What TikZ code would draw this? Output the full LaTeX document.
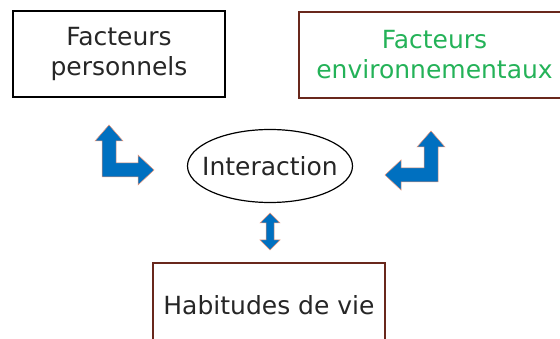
\documentclass[tikz,border=0pt]{standalone}
\usepackage{fontspec}
\setmainfont{DejaVu Sans}
\usepackage{xcolor}
\usepackage{tikz}
\usetikzlibrary{positioning,calc,shapes.geometric}
\definecolor{envgreen}{RGB}{36,178,88}
\definecolor{arrowblue}{RGB}{0,112,192}
\definecolor{arrowedge}{RGB}{238,150,120}
\definecolor{boxedge}{RGB}{105,40,28}

\begin{document}
\begin{tikzpicture}[
		x=1pt,y=-1pt,
		box/.style={draw, line width=1.3pt, align=center, font=\fontsize{25}{30}\selectfont, text=black!85},
		redbox/.style={box, draw=boxedge},
		blockarrow/.style={fill=arrowblue, draw=arrowedge, line width=0.5pt, line join=miter}
		]
		\useasboundingbox (0,0) rectangle (560,339);
		
		% ====== BOÎTES ======
		\node[box, minimum width=212pt, minimum height=86pt] (perso) at (119,54)
		{Facteurs\\personnels};
		
		\node[redbox, minimum width=271pt, minimum height=86pt, text=envgreen] (envir) at (434.5,55)
		{Facteurs\\environnementaux};
		
		\node[redbox, minimum width=232pt, minimum height=84pt] (habit) at (269,305)
		{Habitudes de vie};
		
		\node[font=\fontsize{25}{30}\selectfont, text=black!85] (inter) at (270,166)
		{Interaction};
		\draw[line width=1.2pt] (inter.center) ellipse [x radius=82.5, y radius=36.5];
		
		% ====== FLÈCHES ======
		\draw[blockarrow] (109,125) -- (123,141) -- (116,141) -- (116,163) -- (138,163)
		-- (138,155) -- (154,170) -- (138,185) -- (138,177) -- (102,177) -- (102,141)
		-- (95,141) -- cycle;
		
		\draw[blockarrow] (431,131) -- (445,147) -- (438,147) -- (438,182) -- (401,182)
		-- (401,190) -- (385,175) -- (401,160) -- (401,168) -- (424,168) -- (424,147)
		-- (417,147) -- cycle;
		
		\draw[blockarrow] (270,213) -- (280,223) -- (274,223) -- (274,240) -- (280,240)
		-- (270,250) -- (260,240) -- (266,240) -- (266,223) -- (260,223) -- cycle;
		
\end{tikzpicture}
\end{document}
